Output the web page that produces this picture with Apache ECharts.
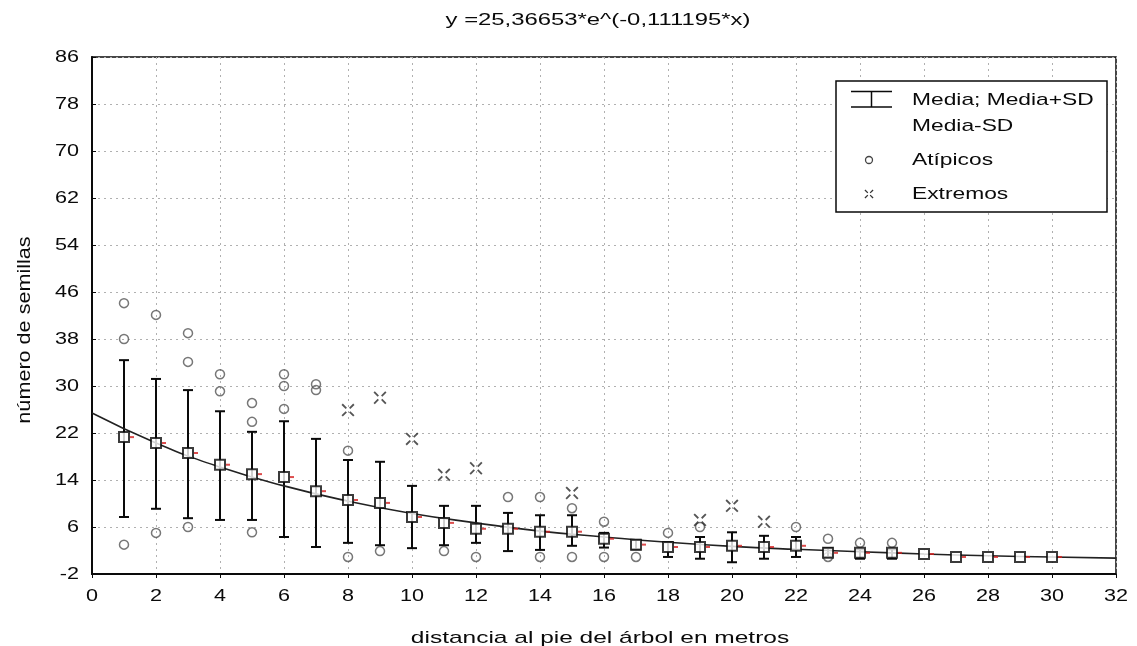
<!DOCTYPE html>
<html>
<head>
<meta charset="utf-8">
<title>semillas</title>
<script src="https://cdn.jsdelivr.net/npm/echarts@6/dist/echarts.min.js"></script>
<style>
  html, body { margin: 0; padding: 0; background: #fff; }
  #chart { width: 1137px; height: 646px; }
</style>
</head>
<body>
<div id="chart"></div>
<script>
// distancia (m) de cada grupo
var distancias = [1, 2, 3, 4, 5, 6, 7, 8, 9, 10, 11, 12, 13, 14, 15, 16, 17, 18, 19, 20, 21, 22, 23, 24, 25, 26, 27, 28, 29, 30];
// media, media+SD, media-SD
var medias = [21.3, 20.3, 18.6, 16.6, 15.0, 14.5, 12.1, 10.6, 10.1, 7.7, 6.7, 5.7, 5.7, 5.2, 5.2, 4.0, 3.0, 2.6, 2.6, 2.8, 2.6, 2.8, 1.6, 1.6, 1.6, 1.4, 0.9, 0.9, 0.9, 0.9];
var mediaMasSD = [34.4, 31.2, 29.3, 25.7, 22.2, 24.0, 21.0, 17.4, 17.1, 13.0, 9.6, 9.6, 8.4, 8.0, 8.0, 5.0, 3.8, 3.4, 4.3, 5.1, 4.5, 4.3, 2.4, 2.2, 2.2, 1.4, 0.9, 0.9, 0.9, 0.9];
var mediaMenosSD = [7.7, 9.1, 7.5, 7.2, 7.2, 4.3, 2.6, 3.3, 2.9, 2.4, 2.9, 3.3, 1.9, 2.1, 2.8, 2.5, 2.2, 0.9, 0.6, 0.0, 0.6, 0.9, 0.9, 0.6, 0.6, 1.4, 0.9, 0.9, 0.9, 0.9];

// atipicos [x, y]
var atipicos = [
  [1, 44.1], [1, 38], [1, 3.0], [2, 42.1], [2, 5.0], [3, 39], [3, 34.1], [3, 6.0],
  [4, 32], [4, 29.1], [5, 27.1], [5, 23.9], [5, 5.1], [6, 32], [6, 30], [6, 26.1],
  [7, 30.3], [7, 29.3], [8, 19], [8, 0.9], [9, 1.9], [11, 1.9], [12, 0.9],
  [13, 11.1], [14, 11.1], [14, 0.9], [15, 9.2], [15, 0.9], [16, 6.9], [16, 0.9],
  [17, 0.9], [18, 5.0], [19, 6.0], [22, 6.0], [23, 4.0], [23, 0.9], [24, 3.3], [25, 3.3]
];
// extremos [x, y]
var extremos = [[8, 25.9], [9, 28], [10, 21], [11, 14.9], [12, 16], [15, 11.8], [19, 7.2], [20, 9.6], [21, 6.9]];

// curva ajustada, puntos
var curvaX = [0, 2, 4, 6, 8, 10, 12, 14, 16, 18, 20, 22, 24, 26, 28, 30, 32];
var curvaY = [25.4, 20.3, 16.2, 13.0, 10.4, 8.3, 6.7, 5.3, 4.3, 3.4, 2.7, 2.2, 1.8, 1.4, 1.1, 0.9, 0.7];

// etiquetas de los ejes
var ticksY = [-2, 6, 14, 22, 30, 38, 46, 54, 62, 70, 78, 86];
var ticksX = [0, 2, 4, 6, 8, 10, 12, 14, 16, 18, 20, 22, 24, 26, 28, 30, 32];

var font = "'Liberation Sans', Arial, sans-serif";
var ink = "#0a0a0a";
var chart = echarts.init(document.getElementById("chart"));

var barras = distancias.map(function (x, i) {
  return [x, mediaMenosSD[i], mediaMasSD[i]];
});
var puntosMedia = distancias.map(function (x, i) {
  return [x, medias[i]];
});
var curva = curvaX.map(function (x, i) {
  return [x, curvaY[i]];
});

var gridLine = { show: true, lineStyle: { color: "#b0b0b0", width: 1, type: [2, 4] } };
var extremoPath = "M0,1L1,0L4.2,3.2L3.2,4.2Z M10,1L9,0L5.8,3.2L6.8,4.2Z M0,9L1,10L4.2,6.8L3.2,5.8Z M10,9L9,10L5.8,6.8L6.8,5.8Z";

var option = {
  animation: false,
  backgroundColor: "#fff",
  grid: {
    left: 92, right: 21, top: 57, bottom: 72,
    show: true, borderColor: ink, borderWidth: 1.5, backgroundColor: "#fff"
  },
  xAxis: {
    type: "value",
    min: ticksX[0], max: ticksX[ticksX.length - 1], interval: 2,
    axisLine: { show: true, onZero: false, lineStyle: { color: ink, width: 2 } },
    axisTick: { show: true, length: 4, lineStyle: { color: ink } },
    axisLabel: { show: false },
    splitLine: gridLine
  },
  yAxis: {
    type: "value",
    min: ticksY[0], max: ticksY[ticksY.length - 1], interval: 8,
    axisLine: { show: true, onZero: false, lineStyle: { color: ink, width: 2 } },
    axisTick: { show: true, inside: true, length: 4, lineStyle: { color: ink } },
    axisLabel: { show: false },
    splitLine: gridLine
  },
  series: [
    {
      // barras media +/- SD
      type: "custom",
      data: barras,
      encode: { x: 0, y: [1, 2] },
      z: 2,
      renderItem: function (params, api) {
        var x = api.value(0);
        var lo = api.coord([x, api.value(1)]);
        var hi = api.coord([x, api.value(2)]);
        if (Math.abs(lo[1] - hi[1]) < 1) return null;
        var w = 5;
        var st = { stroke: ink, lineWidth: 2 };
        return {
          type: "group",
          children: [
            { type: "line", shape: { x1: hi[0], y1: hi[1], x2: lo[0], y2: lo[1] }, style: st },
            { type: "line", shape: { x1: hi[0] - w, y1: hi[1], x2: hi[0] + w, y2: hi[1] }, style: st },
            { type: "line", shape: { x1: lo[0] - w, y1: lo[1], x2: lo[0] + w, y2: lo[1] }, style: st }
          ]
        };
      }
    },
    {
      // curva exponencial
      type: "line",
      data: curva,
      smooth: true,
      showSymbol: false,
      z: 3,
      lineStyle: { color: "#222", width: 1.6 }
    },
    {
      // marcas rojas junto a la media
      type: "scatter",
      data: puntosMedia,
      symbol: "rect",
      symbolSize: [4, 2],
      symbolOffset: [8, 0],
      z: 4,
      itemStyle: { color: "#d42020" }
    },
    {
      type: "scatter",
      data: puntosMedia,
      symbol: "rect",
      symbolSize: 10,
      z: 5,
      itemStyle: { color: "#fff", borderColor: ink, borderWidth: 2 }
    },
    {
      type: "scatter",
      data: atipicos,
      symbol: "circle",
      symbolSize: 9,
      z: 4,
      itemStyle: { color: "rgba(255,255,255,0)", borderColor: "#555", borderWidth: 1.5 }
    },
    {
      type: "scatter",
      data: extremos,
      symbol: "path://" + extremoPath,
      symbolSize: 13,
      z: 4,
      itemStyle: { color: "#2a2a2a" }
    }
  ]
};

chart.setOption(option);

// textos anchos (el original usa una letra mas ancha)
function texto(t, x, y, size, sx, align) {
  return {
    type: "text", x: x, y: y, scaleX: sx, z: 10,
    style: { text: t, font: size + "px " + font, fill: ink, textAlign: align || "left", verticalAlign: "middle" }
  };
}

var graficos = [];
graficos.push(texto("y =25,36653*e^(-0,111195*x)", 598, 21, 16, 1.49, "center"));
graficos.push(texto("distancia al pie del árbol en metros", 600, 638, 17, 1.44, "center"));
var nombreY = texto("número de semillas", 25, 330, 18, 1.2, "center");
nombreY.rotation = Math.PI / 2;
graficos.push(nombreY);

// etiquetas de ticks en la posicion que da la escala del eje
ticksY.forEach(function (v) {
  var p = chart.convertToPixel({ gridIndex: 0 }, [0, v]);
  graficos.push(texto(String(v), 79, p[1], 17, 1.27, "right"));
});
ticksX.forEach(function (v) {
  var p = chart.convertToPixel({ gridIndex: 0 }, [v, 0]);
  graficos.push(texto(String(v), p[0], 596, 17, 1.27, "center"));
});

// icono de extremos en la leyenda: cuatro brazos
var brazos = [
  [[0, 1], [1, 0], [4.2, 3.2], [3.2, 4.2]],
  [[10, 1], [9, 0], [5.8, 3.2], [6.8, 4.2]],
  [[0, 9], [1, 10], [4.2, 6.8], [3.2, 5.8]],
  [[10, 9], [9, 10], [5.8, 6.8], [6.8, 5.8]]
].map(function (pts) {
  return {
    type: "polygon",
    shape: { points: pts.map(function (p) { return [28.5 + p[0] * 0.9, 108.5 + p[1] * 0.9]; }) },
    style: { fill: "#333" }
  };
});

// leyenda
graficos.push({
  type: "group",
  x: 836,
  y: 81,
  z: 10,
  children: [
    { type: "rect", shape: { x: 0, y: 0, width: 271, height: 131 }, style: { fill: "#fff", stroke: ink, lineWidth: 1.5 } },
    { type: "line", shape: { x1: 15, y1: 10.5, x2: 56, y2: 10.5 }, style: { stroke: ink, lineWidth: 1.5 } },
    { type: "line", shape: { x1: 15, y1: 26, x2: 56, y2: 26 }, style: { stroke: ink, lineWidth: 1.5 } },
    { type: "line", shape: { x1: 35.5, y1: 10.5, x2: 35.5, y2: 26 }, style: { stroke: ink, lineWidth: 1.5 } },
    texto("Media; Media+SD", 76, 19, 17, 1.34),
    texto("Media-SD", 76, 45, 17, 1.34),
    { type: "circle", shape: { cx: 33, cy: 79, r: 3.5 }, style: { fill: "#fff", stroke: "#444", lineWidth: 1.3 } },
    texto("Atípicos", 76, 79, 17, 1.34)
  ].concat(brazos, [texto("Extremos", 76, 113, 17, 1.34)])
});

chart.setOption({ graphic: graficos });
</script>
</body>
</html>
